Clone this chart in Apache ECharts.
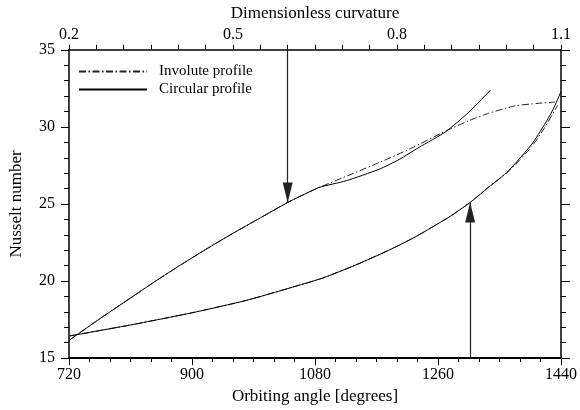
<!DOCTYPE html>
<html>
<head>
<meta charset="utf-8">
<script src="https://cdn.jsdelivr.net/npm/echarts@6/dist/echarts.min.js"></script>
<style>
  html, body { margin: 0; padding: 0; background: #fff; }
  #chart { width: 580px; height: 410px; }
</style>
</head>
<body>
<div id="chart"></div>
<script>
// Axis ticks
const angleTicks = [720, 900, 1080, 1260, 1440];
const curvatureTicks = [0.2, 0.5, 0.8, 1.1];
const nusseltTicks = [15, 20, 25, 30, 35];

// Upper branch (read on the curvature axis): part common to both profiles
const sharedCurv = [0.2, 0.25, 0.3, 0.35, 0.4, 0.45, 0.5, 0.55, 0.6, 0.63, 0.658];
const sharedCurvNu = [16.15, 17.4, 18.6, 19.8, 20.95, 22.05, 23.1, 24.1, 25.1, 25.62, 26.08];
// Upper branch, circular profile
const circUpperCurv = [0.707, 0.767, 0.804, 0.84, 0.889, 0.931, 0.971];
const circUpperNu = [26.51, 27.25, 27.89, 28.67, 29.69, 30.95, 32.39];
// Upper branch, involute profile
const invUpperCurv = [0.713, 0.767, 0.822, 0.889, 0.931, 0.967, 1.016, 1.058, 1.089];
const invUpperNu = [26.88, 27.68, 28.55, 29.73, 30.40, 30.88, 31.37, 31.53, 31.62];

// Lower branch (read on the orbiting angle axis): part common to both profiles
const sharedAngle = [720, 810, 900, 980, 1043, 1091, 1140, 1188, 1227, 1276, 1307];
const sharedAngleNu = [16.43, 17.15, 17.94, 18.75, 19.55, 20.19, 21.05, 22.0, 22.87, 24.15, 25.1];
// Lower branch, circular profile
const circLowerAngle = [1334, 1363, 1397, 1416, 1428, 1440];
const circLowerNu = [26.08, 27.15, 28.87, 30.16, 31.1, 32.3];
// Lower branch, involute profile
const invLowerAngle = [1334, 1363, 1397, 1416, 1435];
const invLowerNu = [26.1, 27.1, 28.72, 29.95, 31.4];

// Arrow markers: curvature / angle where the profiles part
const arrowCurv = 0.6;
const arrowAngle = 1307;
const arrowNu = 25.1;

const pairs = (xs, ys) => xs.map((x, i) => [x, ys[i]]);

const FONT = 'Liberation Serif';
const INK = '#000';

const dashDot = [7, 2.5, 1.5, 2.5];

const arrowStyle = {
  silent: true,
  symbol: ['none', 'triangle'],
  symbolSize: [10, 20],
  symbolOffset: [0, [0, 10]],
  label: { show: false },
  emphasis: { disabled: true },
  lineStyle: { color: '#222', width: 1.2, type: 'solid' },
  itemStyle: { color: '#000' }
};

const chart = echarts.init(document.getElementById('chart'), null, { renderer: 'canvas' });

const tickCommon = { show: true, lineStyle: { color: INK, width: 1 } };
const plainNumber = v => String(v);

chart.setOption({
  animation: false,
  backgroundColor: '#fff',
  textStyle: { fontFamily: FONT, color: INK },
  grid: { left: 68, right: 17, top: 48, bottom: 51, containLabel: false },
  legend: {
    orient: 'vertical',
    left: 78,
    top: 64,
    padding: 0,
    itemWidth: 68,
    itemHeight: 10,
    itemGap: 3,
    data: ['Involute profile', 'Circular profile'],
    itemStyle: { opacity: 0 },
    textStyle: { fontFamily: FONT, fontSize: 15, lineHeight: 15, color: INK, padding: [0, 0, 0, 7] },
    selectedMode: false
  },
  xAxis: [
    {
      type: 'value',
      position: 'bottom',
      min: angleTicks[0],
      max: angleTicks[angleTicks.length - 1],
      interval: angleTicks[1] - angleTicks[0],
      name: 'Orbiting angle [degrees]',
      nameLocation: 'middle',
      nameGap: 27,
      nameTextStyle: { fontFamily: FONT, fontSize: 17, color: INK },
      axisLine: { show: true, onZero: false, lineStyle: { color: INK, width: 2 } },
      axisTick: Object.assign({}, tickCommon, { length: 7, inside: false }),
      minorTick: { show: true, splitNumber: 6, length: 4, lineStyle: { color: INK, width: 1 } },
      axisLabel: { fontFamily: FONT, fontSize: 16, color: INK, margin: 9, formatter: plainNumber },
      splitLine: { show: false }
    },
    {
      type: 'value',
      position: 'top',
      min: curvatureTicks[0],
      max: curvatureTicks[curvatureTicks.length - 1],
      interval: 0.05,
      name: 'Dimensionless curvature',
      nameLocation: 'middle',
      nameGap: 27,
      nameTextStyle: { fontFamily: FONT, fontSize: 17, color: INK },
      axisLine: { show: true, onZero: false, lineStyle: { color: INK, width: 1.5 } },
      axisTick: Object.assign({}, tickCommon, { length: 5, inside: false }),
      axisLabel: {
        fontFamily: FONT, fontSize: 16, color: INK, margin: 7,
        formatter: v => curvatureTicks.some(t => Math.abs(t - v) < 1e-6) ? v.toFixed(1) : ''
      },
      splitLine: { show: false }
    }
  ],
  yAxis: [
    {
      type: 'value',
      position: 'left',
      min: nusseltTicks[0],
      max: nusseltTicks[nusseltTicks.length - 1],
      interval: nusseltTicks[1] - nusseltTicks[0],
      name: 'Nusselt number',
      nameLocation: 'middle',
      nameGap: 44,
      nameTextStyle: { fontFamily: FONT, fontSize: 17, color: INK },
      axisLine: { show: true, onZero: false, lineStyle: { color: INK, width: 1.5 } },
      axisTick: Object.assign({}, tickCommon, { length: 8, inside: false }),
      minorTick: { show: true, splitNumber: 5, length: 5, lineStyle: { color: INK, width: 1 } },
      axisLabel: { fontFamily: FONT, fontSize: 16, color: INK, margin: 14, formatter: plainNumber },
      splitLine: { show: false }
    },
    {
      type: 'value',
      position: 'right',
      min: nusseltTicks[0],
      max: nusseltTicks[nusseltTicks.length - 1],
      interval: nusseltTicks[1] - nusseltTicks[0],
      axisLine: { show: true, onZero: false, lineStyle: { color: INK, width: 1.5 } },
      axisTick: Object.assign({}, tickCommon, { length: 9, inside: false }),
      minorTick: { show: true, splitNumber: 5, length: 5, lineStyle: { color: INK, width: 1 } },
      axisLabel: { show: false },
      splitLine: { show: false }
    }
  ],
  series: [
    {
      name: 'Involute profile',
      type: 'line',
      xAxisIndex: 1,
      yAxisIndex: 0,
      symbol: 'none',
      smooth: 0.2,
      itemStyle: { color: '#222' },
      lineStyle: { color: '#222', width: 1, type: dashDot },
      data: pairs(sharedCurv.concat(invUpperCurv), sharedCurvNu.concat(invUpperNu)),
      z: 2
    },
    {
      name: 'Involute profile',
      type: 'line',
      xAxisIndex: 0,
      yAxisIndex: 0,
      symbol: 'none',
      smooth: 0.2,
      itemStyle: { color: '#222' },
      lineStyle: { color: '#222', width: 1, type: dashDot },
      data: pairs(sharedAngle.concat(invLowerAngle), sharedAngleNu.concat(invLowerNu)),
      z: 2
    },
    {
      name: 'Circular profile',
      type: 'line',
      xAxisIndex: 1,
      yAxisIndex: 0,
      symbol: 'none',
      smooth: 0.2,
      itemStyle: { color: INK },
      lineStyle: { color: INK, width: 1, type: 'solid' },
      data: pairs(sharedCurv.concat(circUpperCurv), sharedCurvNu.concat(circUpperNu)),
      markLine: Object.assign({}, arrowStyle, {
        data: [[{ coord: [arrowCurv, nusseltTicks[nusseltTicks.length - 1]] }, { coord: [arrowCurv, arrowNu] }]]
      }),
      z: 3
    },
    {
      name: 'Circular profile',
      type: 'line',
      xAxisIndex: 0,
      yAxisIndex: 0,
      symbol: 'none',
      smooth: 0.2,
      itemStyle: { color: INK },
      lineStyle: { color: INK, width: 1, type: 'solid' },
      data: pairs(sharedAngle.concat(circLowerAngle), sharedAngleNu.concat(circLowerNu)),
      markLine: Object.assign({}, arrowStyle, {
        data: [[{ coord: [arrowAngle, nusseltTicks[0]] }, { coord: [arrowAngle, arrowNu] }]]
      }),
      z: 3
    }
  ]
});
</script>
</body>
</html>
